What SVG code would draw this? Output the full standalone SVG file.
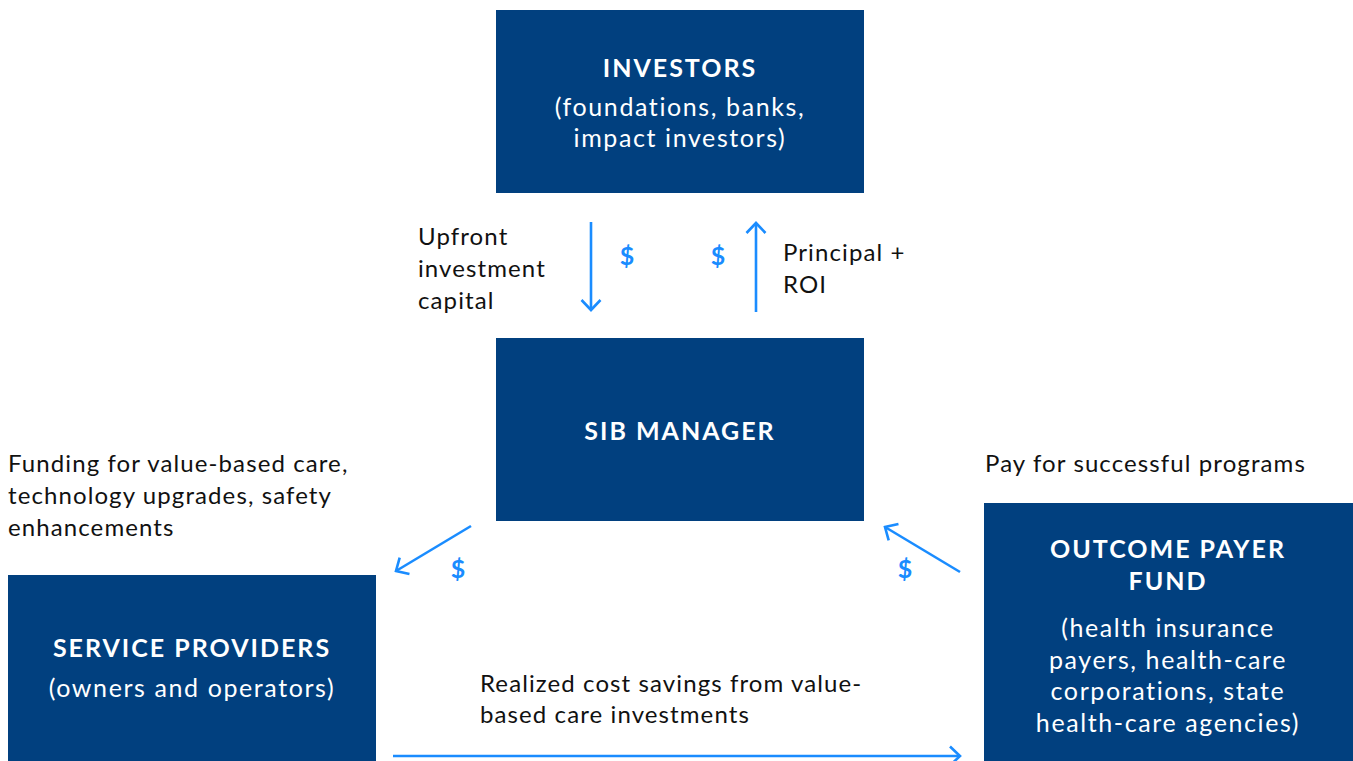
<svg xmlns="http://www.w3.org/2000/svg" width="1353" height="761" viewBox="0 0 1353 761">
<defs>
<style>
.box{fill:#01407F}
.t{font-family:Lato,"Liberation Sans",sans-serif;fill:#fff;font-size:25px;text-anchor:middle;letter-spacing:1.6px}
.b{font-weight:bold;font-size:25px;letter-spacing:2px}
.l{font-family:Lato,"Liberation Sans",sans-serif;fill:#111;font-size:24px;letter-spacing:1.1px}
.d{font-family:Lato,"Liberation Sans",sans-serif;fill:#1A8CFF;font-size:25px;font-weight:bold;text-anchor:middle}
.c{stroke:#1A8CFF;stroke-width:2.6;fill:none}
</style>
<marker id="ah" viewBox="0 0 13 22" refX="11" refY="11" markerWidth="13" markerHeight="22" markerUnits="userSpaceOnUse" orient="auto">
<path d="M1,1.5 L11,11 L1,20.5" fill="none" stroke="#1A8CFF" stroke-width="2.6"/>
</marker>
</defs>
<rect width="1353" height="761" fill="#fff"/>
<g id="investors">
<rect class="box" x="496" y="10" width="368" height="183"/>
<text class="t b" x="680" y="77">INVESTORS</text>
<text class="t" x="680" y="116">(foundations, banks,</text>
<text class="t" x="680" y="147">impact investors)</text>
</g>
<g id="sib-manager">
<rect class="box" x="496" y="338" width="368" height="183"/>
<text class="t b" x="680" y="440">SIB MANAGER</text>
</g>
<g id="service-providers">
<rect class="box" x="8" y="575" width="368" height="186"/>
<text class="t b" x="192" y="657">SERVICE PROVIDERS</text>
<text class="t" x="192" y="697">(owners and operators)</text>
</g>
<g id="outcome-payer">
<rect class="box" x="984" y="503" width="369" height="258"/>
<text class="t b" x="1168" y="558">OUTCOME PAYER</text>
<text class="t b" x="1168" y="590">FUND</text>
<text class="t" x="1168" y="637">(health insurance</text>
<text class="t" x="1168" y="669">payers, health-care</text>
<text class="t" x="1168" y="700">corporations, state</text>
<text class="t" x="1168" y="732">health-care agencies)</text>
</g>
<g id="connectors">
<line class="c" x1="591" y1="222" x2="591" y2="310" marker-end="url(#ah)"/>
<line class="c" x1="756" y1="312" x2="756" y2="223" marker-end="url(#ah)"/>
<line class="c" x1="471" y1="526" x2="396" y2="571" marker-end="url(#ah)"/>
<line class="c" x1="960" y1="572" x2="885" y2="527" marker-end="url(#ah)"/>
<line class="c" x1="393" y1="756" x2="960" y2="756" marker-end="url(#ah)"/>
</g>
<g id="labels">
<text class="l" x="418" y="245">Upfront</text>
<text class="l" x="418" y="277">investment</text>
<text class="l" x="418" y="309">capital</text>
<text class="l" x="783" y="261">Principal +</text>
<text class="l" x="783" y="293">ROI</text>
<text class="l" x="8" y="472">Funding for value-based care,</text>
<text class="l" x="8" y="504">technology upgrades, safety</text>
<text class="l" x="8" y="536">enhancements</text>
<text class="l" x="985" y="472">Pay for successful programs</text>
<text class="l" x="480" y="692">Realized cost savings from value-</text>
<text class="l" x="480" y="723">based care investments</text>
<text class="d" x="627" y="265">$</text>
<text class="d" x="718" y="265">$</text>
<text class="d" x="458" y="578">$</text>
<text class="d" x="905" y="578">$</text>
</g>
</svg>
